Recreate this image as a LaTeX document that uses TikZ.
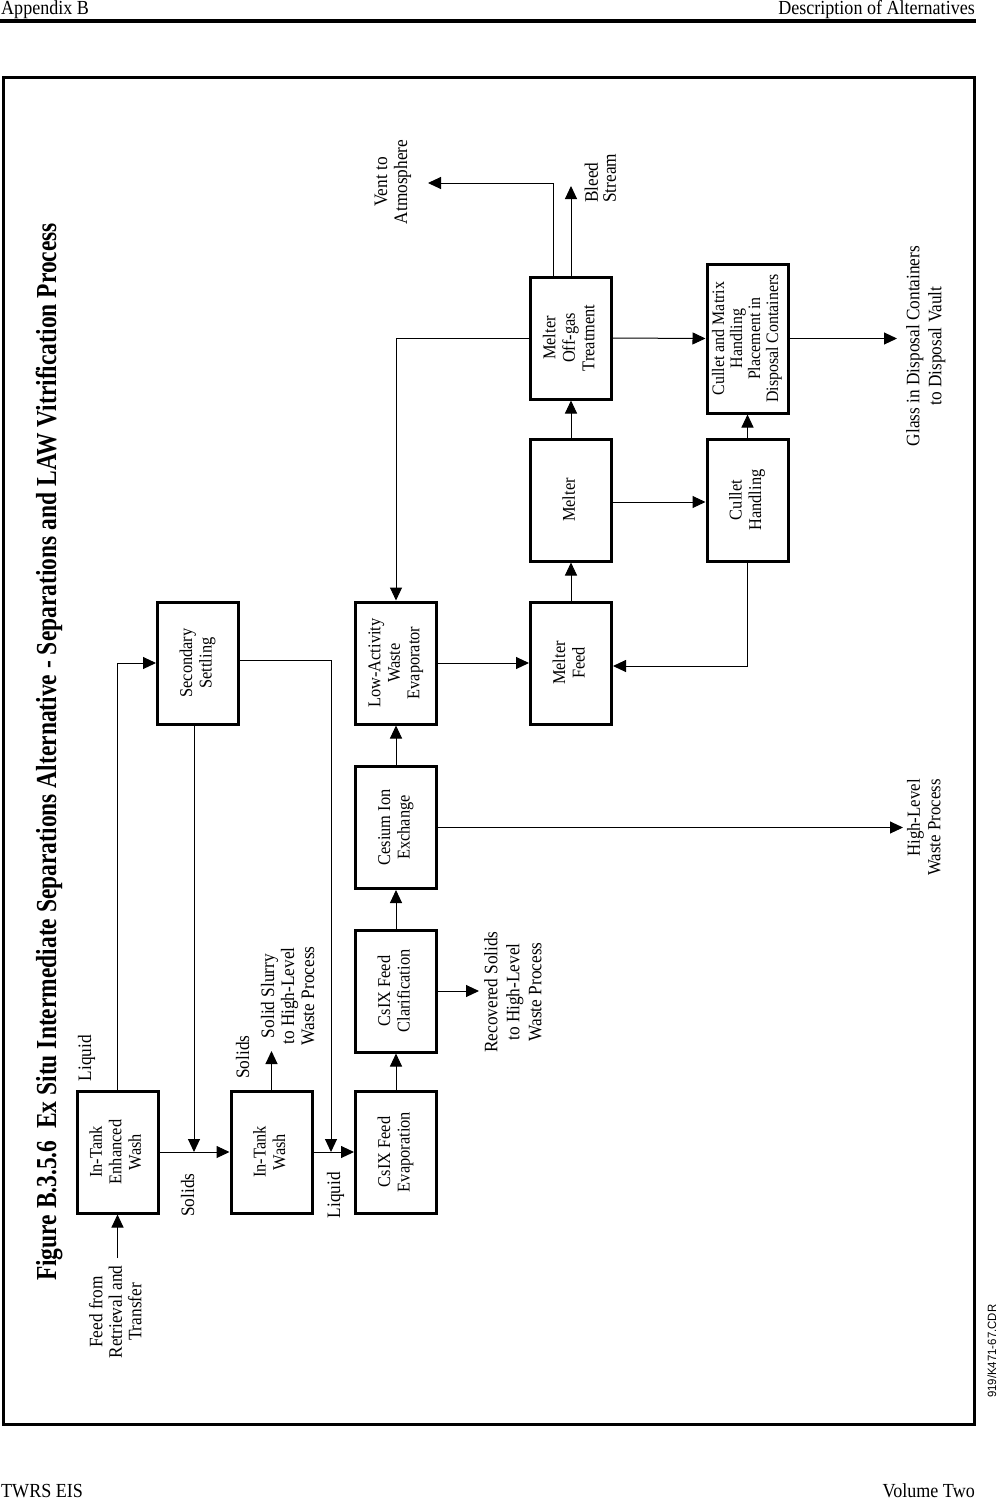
\documentclass[tikz,border=0pt]{standalone}
\usepackage{fontspec}
\setmainfont{Liberation Serif}
\newfontfamily\sansf{Liberation Sans}
\usetikzlibrary{arrows.meta}
\newcommand{\txs}{0.91}
\newcommand{\rt}[2][c]{\rotatebox{90}{\scalebox{\txs}[1]{\begin{tabular}{@{}#1@{}}#2\end{tabular}}}}
\begin{document}
\begin{tikzpicture}[x=1pt,y=-1pt,
  box/.style={draw, line width=3pt, minimum width=81pt, minimum height=122pt, inner sep=0pt, font=\fontsize{18}{19.5}\selectfont},
  lbl/.style={inner sep=0pt, font=\fontsize{19}{21}\selectfont},
  hdr/.style={inner sep=0pt, font=\fontsize{19}{22}\selectfont},
  arr/.style={line width=1pt, -{Triangle[length=13pt,width=12pt]}},
  conn/.style={line width=1pt}
]
\useasboundingbox (0,0) rectangle (998,1500);
% header / footer / frame
\node[hdr, anchor=base west] (hl) at (1,14) {\scalebox{0.95}[1.05]{Appendix B}};
\node[hdr, anchor=base east] (hr) at (975,14) {\scalebox{0.95}[1.05]{Description of Alternatives}};
\draw[line width=3.5pt] (0,21) -- (976,21);
\draw[line width=3pt] (3,77) rectangle (974,1424);
\node[hdr, anchor=base west] (fl) at (1,1497) {\scalebox{0.95}[1.05]{TWRS EIS}};
\node[hdr, anchor=base east] (fr) at (975,1497) {\scalebox{0.95}[1.05]{Volume Two}};
\node[rotate=90, anchor=base west, inner sep=0pt, font=\sansf\fontsize{12}{13}\selectfont] (cdr) at (996,1398) {\scalebox{0.95}[1]{919/K471-67.CDR}};
% title
\node[rotate=90, anchor=base, inner sep=0pt, font=\fontsize{29}{30}\selectfont\bfseries] (title) at (56,752)
  {\scalebox{0.81}[1]{Figure B.3.5.6\ \ Ex Situ Intermediate Separations Alternative - Separations and LAW Vitrification Process}};
% boxes
\node[box] (itew) at (117.5,1152) {\rt{In-Tank\\Enhanced\\Wash}};
\node[box] (ss) at (198,663) {\rt{Secondary\\Settling}};
\node[box] (itw) at (271.5,1152) {\rt{In-Tank\\Wash}};
\node[box] (evap) at (396,1152) {\rt{CsIX Feed\\Evaporation}};
\node[box] (clar) at (396,991) {\rt{CsIX Feed\\Clarification}};
\node[box] (csix) at (396,827.5) {\rt{Cesium Ion\\Exchange}};
\node[box] (law) at (396,663) {\rt{Low-Activity\\Waste\\Evaporator}};
\node[box] (mf) at (571,663) {\rt{Melter\\Feed}};
\node[box] (melt) at (571,500) {\rt{Melter}};
\node[box] (off) at (571,338) {\rt{Melter\\Off-gas\\Treatment}};
\node[box] (ch) at (747.5,500) {\rt{Cullet\\Handling}};
\node[box, minimum height=149pt, font=\fontsize{17.5}{18}\selectfont] (cmh) at (747.5,338.5) {\rt{Cullet and Matrix\\Handling\\Placement in\\Disposal Containers}};
% free labels
\node[lbl, font=\fontsize{19}{19.5}\selectfont] (feed) at (118,1312) {\rt{Feed from\\Retrieval and\\Transfer}};
\node[lbl] (liq1) at (87,1058) {\rt{Liquid}};
\node[lbl] (sol1) at (190,1195) {\rt{Solids}};
\node[lbl] (sol2) at (245,1057) {\rt{Solids}};
\node[lbl, font=\fontsize{19}{20}\selectfont] (slurry) at (290,996) {\rt{Solid Slurry\\to High-Level\\Waste Process}};
\node[lbl] (liq2) at (336,1195) {\rt{Liquid}};
\node[lbl, font=\fontsize{19}{22}\selectfont] (recov) at (515,992) {\rt{Recovered Solids\\to High-Level\\Waste Process}};
\node[lbl, font=\fontsize{18.5}{20.5}\selectfont, anchor=north] (hlw) at (926,779) {\rt[r]{High-Level\\Waste Process}};
\node[lbl, font=\fontsize{19}{22}\selectfont] (glass) at (926,346) {\rt{Glass in Disposal Containers\\to Disposal Vault}};
\node[lbl, font=\fontsize{19}{20}\selectfont] (vent) at (393,182) {\rt{Vent to\\Atmosphere}};
\node[lbl, font=\fontsize{19}{18}\selectfont, anchor=south] (bleed) at (603,203) {\rt[l]{Bleed\\Stream}};
% connector end points
\coordinate (feedpt) at (117.5,1258);
\coordinate (slurrypt) at (271.5,1051);
\coordinate (recovpt) at (479,991);
\coordinate (hlwpt) at (903,827.5);
\coordinate (glasspt) at (897,338.5);
\coordinate (ventturn) at (553,183);
\coordinate (ventpt) at (428,183);
\coordinate (bleedpt) at (571,186);
\coordinate (ssturn) at (331,660);
% connectors
\draw[arr] (feedpt) -- (itew.south);
\draw[arr] (itew.east) -- (itw.west);
\draw[arr] (itew.north) |- (ss.west);
\draw[arr] ([xshift=-4pt]ss.south) -- ([xshift=-4pt]ss.south |- itew.east);
\draw[arr] (itw.north) -- (slurrypt);
\draw[arr] (itw.east) -- (evap.west);
\draw[arr] (ss.east |- ssturn) -- (ssturn) -- (ssturn |- itw.east);
\draw[arr] (evap.north) -- (clar.south);
\draw[arr] (clar.east) -- (recovpt);
\draw[arr] (clar.north) -- (csix.south);
\draw[arr] (csix.east) -- (hlwpt);
\draw[arr] (csix.north) -- (law.south);
\draw[arr] (law.east) -- (mf.west);
\draw[arr] (mf.north) -- (melt.south);
\draw[arr] (melt.north) -- (off.south);
\draw[arr] (off.west) -| (law.north);
\draw[arr] (off.north -| ventturn) -- (ventturn) -- (ventpt);
\draw[arr] (off.north) -- (bleedpt);
\draw[arr] (off.east) -- (cmh.west);
\draw[arr] ([yshift=-2pt]melt.east) -- ([yshift=-2pt]melt.east -| ch.west);
\draw[arr] (ch.north) -- (cmh.south);
\draw[arr] (ch.south) |- ([yshift=-3pt]mf.east);
\draw[arr] (cmh.east) -- (glasspt);
\end{tikzpicture}
\end{document}
